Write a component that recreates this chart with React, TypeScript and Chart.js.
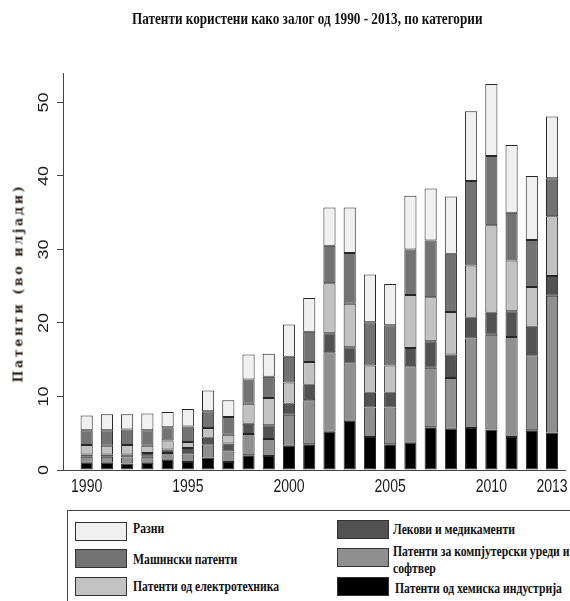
import React, { useEffect, useRef } from "react";
import { Chart, registerables } from "chart.js";

Chart.register(...registerables);

const years = [1990, 1991, 1992, 1993, 1994, 1995, 1996, 1997, 1998, 1999, 2000, 2001, 2002, 2003, 2004, 2005, 2006, 2007, 2008, 2009, 2010, 2011, 2012, 2013];
const xTickYears = [1990, 1995, 2000, 2005, 2010, 2013];
const yTickValues = [0, 10, 20, 30, 40, 50];

const chemical = [1.0, 1.0, 0.9, 1.0, 1.4, 1.1, 1.7, 1.1, 2.0, 1.9, 3.3, 3.5, 5.2, 6.7, 4.5, 3.5, 3.7, 5.8, 5.6, 5.7, 5.5, 4.5, 5.4, 5.1];
const computer = [0.8, 0.8, 0.8, 0.8, 0.9, 1.0, 1.8, 1.4, 2.9, 2.3, 4.2, 6.0, 10.8, 7.8, 4.0, 5.0, 10.4, 8.1, 6.9, 12.2, 12.9, 13.6, 10.2, 18.6];
const medicine = [0.3, 0.3, 0.4, 0.5, 0.5, 0.9, 0.9, 1.1, 1.4, 1.9, 1.5, 2.1, 2.6, 2.2, 2.0, 2.0, 2.5, 3.6, 3.2, 2.8, 3.0, 3.5, 3.9, 2.7];
const electro = [1.3, 1.2, 1.3, 1.0, 1.2, 0.8, 1.3, 1.2, 2.7, 3.7, 2.9, 3.1, 6.8, 5.9, 3.7, 3.7, 7.2, 6.0, 5.8, 7.1, 11.9, 6.9, 5.4, 8.1];
const mechanical = [2.0, 2.1, 2.1, 2.1, 1.8, 2.1, 2.3, 2.4, 3.3, 2.9, 3.5, 4.1, 5.1, 6.9, 5.9, 5.5, 6.2, 7.7, 7.9, 11.5, 9.4, 6.5, 6.4, 5.2];
const misc = [2.0, 2.2, 2.1, 2.3, 2.1, 2.4, 2.8, 2.3, 3.4, 3.1, 4.4, 4.6, 5.2, 6.2, 6.5, 5.6, 7.3, 7.1, 7.8, 9.5, 9.8, 9.2, 8.7, 8.4];

const labelChemical = "Патенти од хемиска индустрија";
const labelComputer = "Патенти за компјутерски уреди и софтвер";
const labelMedicine = "Лекови и медикаменти";
const labelElectro = "Патенти од електротехника";
const labelMechanical = "Машински патенти";
const labelMisc = "Разни";

const titleText = "Патенти користени како залог од 1990 - 2013, по категории";
const yTitleText = "Патенти (во илјади)";

const colChemical = "#000000";
const colComputer = "#8f8f8f";
const colMedicine = "#525252";
const colElectro = "#c2c2c2";
const colMechanical = "#737373";
const colMisc = "#f0f0f0";

const tickLabelPlugin = {
  id: "tickLabels",
  afterDraw(chart: any) {
    const ctx = chart.ctx;
    const ys = chart.scales.y;
    const xs = chart.scales.x;
    ctx.save();
    ctx.fillStyle = "#1a1a1a";
    ctx.textAlign = "center";
    ctx.textBaseline = "middle";
    ctx.font = '15px "Liberation Sans", Arial, sans-serif';
    ys.ticks.forEach((t: any) => {
      const p = ys.getPixelForValue(t.value);
      ctx.save();
      ctx.translate(44, p);
      ctx.rotate(-Math.PI / 2);
      ctx.scale(1.2, 1);
      ctx.fillText(String(t.value), 0, 0);
      ctx.restore();
    });
    ctx.font = '18px "Liberation Sans", Arial, sans-serif';
    xs.ticks.forEach((t: any) => {
      const p = xs.getPixelForValue(t.value);
      ctx.save();
      ctx.translate(p, 487);
      ctx.scale(0.78, 1);
      ctx.fillText(String(t.value), 0, 0);
      ctx.restore();
    });
    ctx.restore();
  },
};

const serif = '"Liberation Serif", "Times New Roman", serif';

function Swatch({ left, top, color }: { left: number; top: number; color: string }) {
  return (
    <div
      style={{
        position: "absolute",
        left,
        top,
        width: 50,
        height: 17,
        background: color,
        border: "1.5px solid #333",
      }}
    />
  );
}

function LegendText({ left, top, text }: { left: number; top: number; text: string }) {
  return (
    <div
      style={{
        position: "absolute",
        left,
        top,
        fontFamily: serif,
        fontWeight: "bold",
        fontSize: 14,
        lineHeight: "14px",
        whiteSpace: "nowrap",
        color: "#111",
        transform: "scaleX(0.835)",
        transformOrigin: "left center",
      }}
    >
      {text}
    </div>
  );
}

export default function App() {
  const canvasRef = useRef<HTMLCanvasElement | null>(null);

  useEffect(() => {
    if (!canvasRef.current) return;
    const mk = (label: string, data: number[], color: string) => ({
      label,
      data,
      backgroundColor: color,
      borderColor: "#262626",
      borderWidth: 1,
      borderSkipped: false as const,
      barPercentage: 0.6,
      categoryPercentage: 1,
    });
    const chart = new Chart(canvasRef.current, {
      type: "bar",
      data: {
        labels: years,
        datasets: [
          mk(labelChemical, chemical, colChemical),
          mk(labelComputer, computer, colComputer),
          mk(labelMedicine, medicine, colMedicine),
          mk(labelElectro, electro, colElectro),
          mk(labelMechanical, mechanical, colMechanical),
          mk(labelMisc, misc, colMisc),
        ],
      },
      options: {
        animation: false,
        responsive: false,
        events: [],
        layout: { padding: { top: 73, right: 5, left: 0, bottom: 0 } },
        plugins: {
          legend: { display: false },
          tooltip: { enabled: false },
          title: { display: false },
        },
        scales: {
          x: {
            type: "linear",
            stacked: true,
            offset: false,
            min: 1988.83,
            max: 2013.64,
            grid: { display: false, drawTicks: false },
            border: { display: true, color: "#444", width: 1 },
            ticks: { display: false },
            afterBuildTicks: (scale: any) => {
              scale.ticks = xTickYears.map((v) => ({ value: v }));
            },
            afterFit: (scale: any) => {
              scale.height = 35;
            },
          },
          y: {
            type: "linear",
            stacked: true,
            min: 0,
            max: 54,
            grid: { display: true, drawOnChartArea: false, drawTicks: true, tickLength: 6, color: "#444" },
            border: { display: true, color: "#444", width: 1 },
            ticks: { display: false },
            afterBuildTicks: (scale: any) => {
              scale.ticks = yTickValues.map((v) => ({ value: v }));
            },
            afterFit: (scale: any) => {
              scale.width = 63;
            },
          },
        },
      },
      plugins: [tickLabelPlugin],
    });
    return () => chart.destroy();
  }, []);

  return (
    <div
      style={{
        position: "absolute",
        left: 0,
        top: 0,
        width: 570,
        height: 601,
        overflow: "hidden",
        background: "#fff",
      }}
    >
      <canvas
        ref={canvasRef}
        width={570}
        height={505}
        style={{ position: "absolute", left: 0, top: 0, width: 570, height: 505 }}
      />
      <div
        style={{
          position: "absolute",
          left: 132,
          top: 10,
          fontFamily: serif,
          fontWeight: "bold",
          fontSize: 17,
          lineHeight: "17px",
          whiteSpace: "nowrap",
          color: "#111",
          transform: "scaleX(0.775)",
          transformOrigin: "left center",
        }}
      >
        {titleText}
      </div>
      <div
        style={{
          position: "absolute",
          left: 18,
          top: 283,
          transform: "translate(-50%, -50%) rotate(-90deg)",
          fontFamily: '"DejaVu Serif", serif',
          fontWeight: "bold",
          fontSize: 12.5,
          lineHeight: "13px",
          letterSpacing: "2.7px",
          whiteSpace: "nowrap",
          color: "#2b2016",
        }}
      >
        {yTitleText}
      </div>
      <div
        style={{
          position: "absolute",
          left: 67,
          top: 510,
          width: 520,
          height: 110,
          border: "1px solid #444",
        }}
      />
      <Swatch left={75} top={522} color={colMisc} />
      <Swatch left={75} top={549} color={colMechanical} />
      <Swatch left={75} top={577} color={colElectro} />
      <Swatch left={337} top={520} color={colMedicine} />
      <Swatch left={337} top={548} color={colComputer} />
      <Swatch left={337} top={577} color={colChemical} />
      <LegendText left={133} top={522} text={labelMisc} />
      <LegendText left={133} top={553} text={labelMechanical} />
      <LegendText left={133} top={580} text={labelElectro} />
      <LegendText left={393} top={523} text={labelMedicine} />
      <LegendText left={393} top={545} text={"Патенти за компјутерски уреди и"} />
      <LegendText left={393} top={562} text={"софтвер"} />
      <LegendText left={395} top={582} text={labelChemical} />
    </div>
  );
}
